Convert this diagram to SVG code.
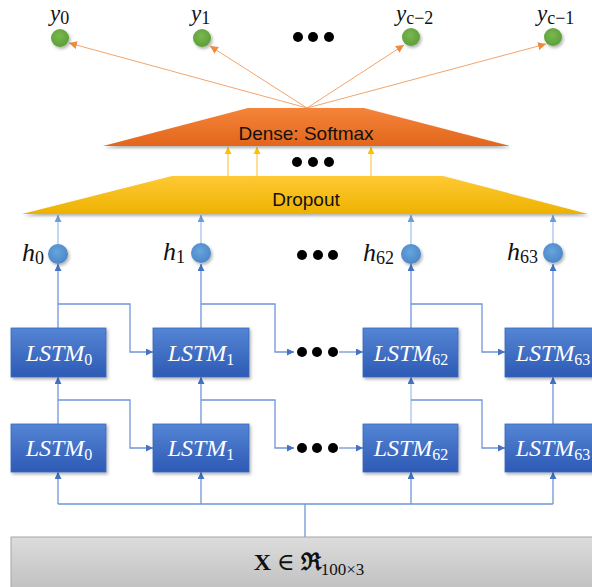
<svg xmlns="http://www.w3.org/2000/svg" width="592" height="587" viewBox="0 0 592 587">
  <defs>
    <linearGradient id="gLstm" x1="0" y1="0" x2="0" y2="1">
      <stop offset="0" stop-color="#5585D4"/>
      <stop offset="1" stop-color="#2D5AB5"/>
    </linearGradient>
    <linearGradient id="gDense" x1="0" y1="0" x2="0" y2="1">
      <stop offset="0" stop-color="#F5843A"/>
      <stop offset="1" stop-color="#E2661C"/>
    </linearGradient>
    <linearGradient id="gDrop" x1="0" y1="0" x2="0" y2="1">
      <stop offset="0" stop-color="#FFC935"/>
      <stop offset="1" stop-color="#EDB200"/>
    </linearGradient>
    <linearGradient id="gGray" x1="0" y1="0" x2="0" y2="1">
      <stop offset="0" stop-color="#DCDCDC"/>
      <stop offset="1" stop-color="#BDBDBD"/>
    </linearGradient>
    <radialGradient id="gGreen" cx="0.45" cy="0.4" r="0.6">
      <stop offset="0" stop-color="#78B84E"/>
      <stop offset="1" stop-color="#5E9E3A"/>
    </radialGradient>
    <radialGradient id="gBlue" cx="0.45" cy="0.4" r="0.6">
      <stop offset="0" stop-color="#67A5DD"/>
      <stop offset="1" stop-color="#4A87C7"/>
    </radialGradient>
    <filter id="shadow" x="-20%" y="-20%" width="140%" height="150%">
      <feDropShadow dx="1.5" dy="2" stdDeviation="1.5" flood-color="#000" flood-opacity="0.3"/>
    </filter>
    <marker id="aBlue" viewBox="0 0 10 10" refX="10" refY="5" markerWidth="7" markerHeight="7" markerUnits="userSpaceOnUse" orient="auto">
      <path d="M0,0 L10,5 L0,10 z" fill="#4472C4"/>
    </marker>
    <marker id="aLight" viewBox="0 0 10 10" refX="10" refY="5" markerWidth="7" markerHeight="7" markerUnits="userSpaceOnUse" orient="auto">
      <path d="M0,0 L10,5 L0,10 z" fill="#6E9BDA"/>
    </marker>
    <marker id="aOrange" viewBox="0 0 10 10" refX="10" refY="5" markerWidth="8" markerHeight="8" markerUnits="userSpaceOnUse" orient="auto">
      <path d="M0,0 L10,5 L0,10 z" fill="#F08A3E"/>
    </marker>
    <marker id="aYellow" viewBox="0 0 10 10" refX="10" refY="5" markerWidth="7" markerHeight="7" markerUnits="userSpaceOnUse" orient="auto">
      <path d="M0,0 L10,5 L0,10 z" fill="#FFC000"/>
    </marker>
  </defs>
  <style>
    .box { fill: url(#gLstm); stroke: #3A66BC; stroke-width: 0.8; filter: url(#shadow); }
    .lstm { font-family: "Liberation Serif", "DejaVu Serif", serif; font-style: italic; font-size: 24px; fill: #FFFFFF; text-anchor: middle; }
    .sub { font-size: 16px; font-style: normal; }
    .ymath { font-family: "Liberation Serif", "DejaVu Serif", serif; font-style: italic; font-size: 23px; fill: #111; }
    .hmath { font-family: "Liberation Serif", "DejaVu Serif", serif; font-style: italic; font-size: 26px; fill: #111; }
    .msub { font-size: 18px; font-style: normal; }
    .label { font-family: "Liberation Sans", Arial, sans-serif; font-size: 19px; fill: #111; text-anchor: middle; }
    .dot { fill: #000; }
    .wire { fill: none; stroke: #6E96D8; stroke-width: 1.3; }
    .wire-light { fill: none; stroke: #A8C3EA; stroke-width: 1.3; }
    .wire-o { fill: none; stroke: #F4A46A; stroke-width: 1; }
    .wire-y { fill: none; stroke: #FFC94A; stroke-width: 1.2; }
  </style>

  <!-- connectors -->
  <g id="connectors">
    <!-- softmax outputs -->
    <line class="wire-o" x1="307" y1="108" x2="69" y2="43" marker-end="url(#aOrange)"/>
    <line class="wire-o" x1="307" y1="108" x2="210" y2="46" marker-end="url(#aOrange)"/>
    <line class="wire-o" x1="307" y1="108" x2="404" y2="45" marker-end="url(#aOrange)"/>
    <line class="wire-o" x1="307" y1="108" x2="546" y2="44" marker-end="url(#aOrange)"/>
    <!-- dropout to dense -->
    <line class="wire-y" x1="228" y1="176" x2="228" y2="147" marker-end="url(#aYellow)"/>
    <line class="wire-y" x1="257" y1="176" x2="257" y2="147" marker-end="url(#aYellow)"/>
    <line class="wire-y" x1="371" y1="176" x2="371" y2="147" marker-end="url(#aYellow)"/>
    <!-- hidden states to dropout -->
    <line class="wire-light" x1="58" y1="244" x2="58" y2="215" marker-end="url(#aLight)"/>
    <line class="wire-light" x1="201" y1="244" x2="201" y2="215" marker-end="url(#aLight)"/>
    <line class="wire-light" x1="411" y1="244" x2="411" y2="215" marker-end="url(#aLight)"/>
    <line class="wire-light" x1="553" y1="244" x2="553" y2="215" marker-end="url(#aLight)"/>
    <!-- upper layer to hidden states -->
    <line class="wire" x1="58" y1="328" x2="58" y2="264" marker-end="url(#aBlue)"/>
    <line class="wire" x1="201" y1="328" x2="201" y2="264" marker-end="url(#aBlue)"/>
    <line class="wire" x1="411" y1="328" x2="411" y2="264" marker-end="url(#aBlue)"/>
    <line class="wire" x1="553" y1="328" x2="553" y2="264" marker-end="url(#aBlue)"/>
    <!-- upper layer recurrence -->
    <path class="wire" d="M58,304 H130 V352 H153" marker-end="url(#aBlue)"/>
    <path class="wire" d="M201,304 H275 V352 H294" marker-end="url(#aBlue)"/>
    <path class="wire" d="M339,352 H363" marker-end="url(#aBlue)"/>
    <path class="wire" d="M411,304 H482 V352 H505" marker-end="url(#aBlue)"/>
    <!-- lower layer to upper layer -->
    <line class="wire" x1="58" y1="424" x2="58" y2="377" marker-end="url(#aBlue)"/>
    <line class="wire" x1="201" y1="424" x2="201" y2="377" marker-end="url(#aBlue)"/>
    <line class="wire-light" x1="411" y1="424" x2="411" y2="377" marker-end="url(#aBlue)"/>
    <line class="wire" x1="553" y1="424" x2="553" y2="377" marker-end="url(#aBlue)"/>
    <!-- lower layer recurrence -->
    <path class="wire" d="M58,400 H130 V448 H153" marker-end="url(#aBlue)"/>
    <path class="wire" d="M201,400 H275 V448 H294" marker-end="url(#aBlue)"/>
    <path class="wire" d="M339,448 H363" marker-end="url(#aBlue)"/>
    <path class="wire" d="M411,400 H482 V448 H505" marker-end="url(#aBlue)"/>
    <!-- input fan-out -->
    <path class="wire" d="M305,537 V504 M58,504 H553"/>
    <line class="wire" x1="58" y1="504" x2="58" y2="472" marker-end="url(#aBlue)"/>
    <line class="wire" x1="201" y1="504" x2="201" y2="472" marker-end="url(#aBlue)"/>
    <line class="wire" x1="411" y1="504" x2="411" y2="472" marker-end="url(#aBlue)"/>
    <line class="wire" x1="553" y1="504" x2="553" y2="472" marker-end="url(#aBlue)"/>
  </g>

  <!-- outputs -->
  <g id="y0"><circle cx="60" cy="38" r="9" fill="url(#gGreen)" filter="url(#shadow)"/>
    <text class="ymath" x="50" y="21">y<tspan class="msub" dy="3">0</tspan></text></g>
  <g id="y1"><circle cx="202" cy="38" r="9" fill="url(#gGreen)" filter="url(#shadow)"/>
    <text class="ymath" x="191" y="21">y<tspan class="msub" dy="3">1</tspan></text></g>
  <g id="yc2"><circle cx="411" cy="37" r="9" fill="url(#gGreen)" filter="url(#shadow)"/>
    <text class="ymath" x="396" y="21">y<tspan class="msub" font-style="italic" dy="3">c</tspan><tspan class="msub">−2</tspan></text></g>
  <g id="yc1"><circle cx="553" cy="37" r="9" fill="url(#gGreen)" filter="url(#shadow)"/>
    <text class="ymath" x="537" y="21">y<tspan class="msub" font-style="italic" dy="3">c</tspan><tspan class="msub">−1</tspan></text></g>
  <g id="dots-y">
    <circle class="dot" cx="298" cy="37" r="5"/><circle class="dot" cx="313" cy="37" r="5"/><circle class="dot" cx="329" cy="37" r="5"/>
  </g>

  <!-- dense layer -->
  <g id="dense">
    <polygon points="103,146 248,108 364,108 510,146" fill="url(#gDense)" filter="url(#shadow)"/>
    <text class="label" x="306" y="140">Dense: Softmax</text>
  </g>
  <g id="dots-mid">
    <circle class="dot" cx="297" cy="162" r="5"/><circle class="dot" cx="313" cy="162" r="5"/><circle class="dot" cx="329" cy="162" r="5"/>
  </g>

  <!-- dropout layer -->
  <g id="dropout">
    <polygon points="22,214 172,176 443,176 588,214" fill="url(#gDrop)" filter="url(#shadow)"/>
    <text class="label" x="306" y="206">Dropout</text>
  </g>

  <!-- hidden states -->
  <g id="h0"><circle cx="58" cy="254" r="10" fill="url(#gBlue)" filter="url(#shadow)"/>
    <text class="hmath" x="22" y="261">h<tspan class="msub" dy="3">0</tspan></text></g>
  <g id="h1"><circle cx="201" cy="253" r="10" fill="url(#gBlue)" filter="url(#shadow)"/>
    <text class="hmath" x="163" y="260">h<tspan class="msub" dy="3">1</tspan></text></g>
  <g id="h62"><circle cx="411" cy="254" r="10" fill="url(#gBlue)" filter="url(#shadow)"/>
    <text class="hmath" x="363" y="261">h<tspan class="msub" dy="3">62</tspan></text></g>
  <g id="h63"><circle cx="553" cy="253" r="10" fill="url(#gBlue)" filter="url(#shadow)"/>
    <text class="hmath" x="507" y="260">h<tspan class="msub" dy="3">63</tspan></text></g>
  <g id="dots-h">
    <circle class="dot" cx="302" cy="255" r="5"/><circle class="dot" cx="318" cy="255" r="5"/><circle class="dot" cx="333" cy="255" r="5"/>
  </g>

  <!-- upper LSTM layer -->
  <g id="lstm-u0"><rect class="box" x="11" y="328" width="95" height="49"/>
    <text class="lstm" x="59" y="361">LSTM<tspan class="sub" dy="4">0</tspan></text></g>
  <g id="lstm-u1"><rect class="box" x="153" y="328" width="96" height="49"/>
    <text class="lstm" x="201" y="361">LSTM<tspan class="sub" dy="4">1</tspan></text></g>
  <g id="lstm-u62"><rect class="box" x="363" y="328" width="95" height="49"/>
    <text class="lstm" x="411" y="361">LSTM<tspan class="sub" dy="4">62</tspan></text></g>
  <g id="lstm-u63"><rect class="box" x="505" y="328" width="95" height="49"/>
    <text class="lstm" x="553" y="361">LSTM<tspan class="sub" dy="4">63</tspan></text></g>
  <g id="dots-u">
    <circle class="dot" cx="302" cy="352" r="5"/><circle class="dot" cx="317" cy="352" r="5"/><circle class="dot" cx="333" cy="352" r="5"/>
  </g>

  <!-- lower LSTM layer -->
  <g id="lstm-l0"><rect class="box" x="11" y="424" width="95" height="48"/>
    <text class="lstm" x="59" y="456">LSTM<tspan class="sub" dy="4">0</tspan></text></g>
  <g id="lstm-l1"><rect class="box" x="153" y="424" width="96" height="48"/>
    <text class="lstm" x="201" y="456">LSTM<tspan class="sub" dy="4">1</tspan></text></g>
  <g id="lstm-l62"><rect class="box" x="363" y="424" width="95" height="48"/>
    <text class="lstm" x="411" y="456">LSTM<tspan class="sub" dy="4">62</tspan></text></g>
  <g id="lstm-l63"><rect class="box" x="505" y="424" width="95" height="48"/>
    <text class="lstm" x="553" y="456">LSTM<tspan class="sub" dy="4">63</tspan></text></g>
  <g id="dots-l">
    <circle class="dot" cx="302" cy="448" r="5"/><circle class="dot" cx="317" cy="448" r="5"/><circle class="dot" cx="333" cy="448" r="5"/>
  </g>

  <!-- input -->
  <g id="input">
    <rect x="11" y="537" width="590" height="60" fill="url(#gGray)" stroke="#A6A6A6" stroke-width="1"/>
    <text x="309" y="570" font-family="'Liberation Serif', 'DejaVu Serif', serif" font-size="24" fill="#111" text-anchor="middle"><tspan font-weight="bold">X</tspan> ∈ <tspan font-weight="bold">ℜ</tspan><tspan font-size="17" dy="5">100×3</tspan></text>
  </g>
</svg>
